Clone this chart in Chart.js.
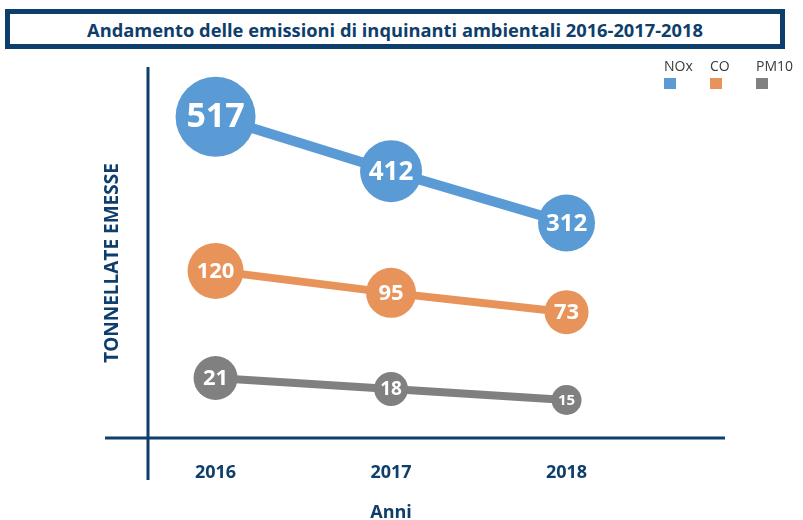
<!DOCTYPE html>
<html><head><meta charset="utf-8">
<script src="https://cdn.jsdelivr.net/npm/chart.js@4.4.1/dist/chart.umd.min.js"></script>
<style>
html,body{margin:0;padding:0;background:#fff;}
#wrap{position:relative;width:803px;height:520px;overflow:hidden;}
#title{position:absolute;left:5px;top:9px;width:780px;height:40px;box-sizing:border-box;border:5px solid #0E3E6B;display:flex;align-items:center;justify-content:center;font-family:"Open Sans",sans-serif;font-weight:700;font-size:18.3px;color:#0E3E6B;white-space:nowrap;}
#title span{display:inline-block;}
canvas{position:absolute;left:0;top:0;}
</style></head><body>
<div id="wrap"><div id="title"><span id="tt">Andamento delle emissioni di inquinanti ambientali 2016-2017-2018</span></div><canvas id="c" width="803" height="520"></canvas></div>
<script>
// ---- data ----
const years = [2016, 2017, 2018];
const seriesNames = ['NOx', 'CO', 'PM10'];
const nox = [517, 412, 312];
const co = [120, 95, 73];
const pm10 = [21, 18, 15];
const xTitle = 'Anni';
const yTitle = 'TONNELLATE EMESSE';

// ---- styles ----
const navy = '#0E3E6B';
const colors = ['#5B9BD5', '#E8935A', '#808080'];
const radii = [[40, 31, 28.5], [28, 25, 22], [22, 17, 15]];
const labelSizes = [[34, 26, 24], [22, 22, 22], [22, 19, 15]];
const lineWidths = [10, 8, 8];
const axisIds = ['yNOx', 'yCO', 'yPM'];

Chart.defaults.font.family = '"Open Sans", sans-serif';

const series = [nox, co, pm10];
const datasets = series.map((vals, i) => ({
  label: seriesNames[i],
  data: years.map((y, j) => ({ x: y, y: vals[j] })),
  yAxisID: axisIds[i],
  borderColor: colors[i],
  backgroundColor: colors[i],
  pointBackgroundColor: colors[i],
  pointBorderWidth: 0,
  borderWidth: lineWidths[i],
  pointRadius: radii[i],
  pointHoverRadius: radii[i],
  tension: 0,
  clip: false
}));

const axisLines = {
  id: 'axisLines',
  beforeDatasetsDraw(chart) {
    const { ctx, chartArea: a } = chart;
    ctx.save();
    ctx.strokeStyle = navy;
    ctx.lineWidth = 3;
    ctx.beginPath();
    ctx.moveTo(a.left - 43, a.bottom);
    ctx.lineTo(a.right, a.bottom);
    ctx.moveTo(a.left, a.top - 21);
    ctx.lineTo(a.left, a.bottom + 42);
    ctx.stroke();
    ctx.restore();
  }
};

const valueLabels = {
  id: 'valueLabels',
  afterDatasetsDraw(chart) {
    const ctx = chart.ctx;
    chart.data.datasets.forEach((ds, i) => {
      const meta = chart.getDatasetMeta(i);
      meta.data.forEach((pt, j) => {
        ctx.save();
        ctx.fillStyle = '#ffffff';
        ctx.font = 'bold ' + labelSizes[i][j] + 'px "Open Sans", sans-serif';
        ctx.textAlign = 'center';
        ctx.textBaseline = 'middle';
        ctx.fillText(String(ds.data[j].y), pt.x, pt.y + 1);
        ctx.restore();
      });
    });
  }
};

const xAxisTitle = {
  id: 'xAxisTitle',
  afterDraw(chart) {
    const ctx = chart.ctx;
    const xs = chart.scales.x;
    ctx.save();
    ctx.fillStyle = navy;
    ctx.font = 'bold 18px "Open Sans", sans-serif';
    ctx.textAlign = 'center';
    ctx.textBaseline = 'middle';
    ctx.fillText(xTitle, xs.getPixelForValue(years[1]), 513);
    ctx.restore();
  }
};

const topLegend = {
  id: 'topLegend',
  afterDraw(chart) {
    const ctx = chart.ctx;
    const a = chart.chartArea;
    ctx.save();
    chart.data.datasets.forEach((ds, i) => {
      const x = a.right - 61 + i * 46;
      ctx.fillStyle = '#3a3a3a';
      ctx.font = '14px "Open Sans", sans-serif';
      ctx.textAlign = 'left';
      ctx.textBaseline = 'middle';
      ctx.fillText(ds.label, x, 67);
      ctx.fillStyle = ds.borderColor;
      ctx.fillRect(x, 78, 12, 11);
    });
    ctx.restore();
  }
};

new Chart(document.getElementById('c'), {
  type: 'line',
  data: { datasets },
  plugins: [axisLines, valueLabels, xAxisTitle, topLegend],
  options: {
    responsive: false,
    animation: false,
    layout: { padding: { top: 88, right: 78, left: 0, bottom: 0 } },
    plugins: { legend: { display: false }, tooltip: { enabled: false } },
    scales: {
      x: {
        type: 'linear',
        min: 2015.615,
        max: 2018.903,
        afterBuildTicks: s => { s.ticks = years.map(v => ({ value: v })); },
        ticks: { callback: v => String(v), color: navy, font: { size: 18, weight: 'bold' }, padding: 16, autoSkip: false, maxRotation: 0 },
        grid: { display: false },
        border: { display: false },
        title: { display: false },
        afterFit: s => { s.height = 82; }
      },
      yNOx: {
        type: 'linear', position: 'left', min: -102.9, max: 572.5,
        ticks: { display: false },
        grid: { display: false },
        border: { display: false },
        title: { display: true, text: yTitle, color: navy, font: { size: 19, weight: 'bold', lineHeight: 1.2 }, padding: { top: 101.6, bottom: 0 } },
        afterFit: s => { s.width = 148; }
      },
      yCO: { type: 'linear', display: false, min: -70.3, max: 328.3 },
      yPM: { type: 'linear', display: false, min: 4.64, max: 100.1 }
    }
  }
});
</script>
</body></html>
